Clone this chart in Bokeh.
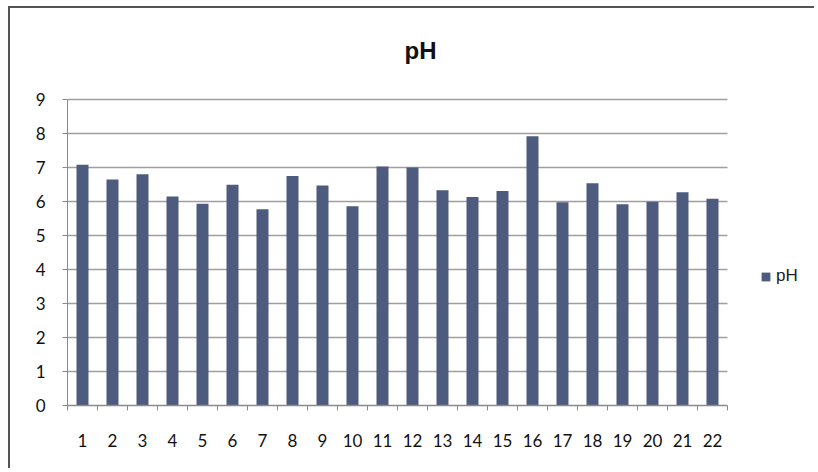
from bokeh.plotting import figure
from bokeh.models import FixedTicker, Legend, LegendItem, ColumnDataSource, Range1d, Label
from bokeh.embed import file_html
from bokeh.resources import INLINE

# pH readings per sample
samples = list(range(1, 23))
ph_values = [7.08, 6.65, 6.80, 6.15, 5.93, 6.49, 5.77, 6.75, 6.47, 5.86, 7.03,
             7.00, 6.33, 6.13, 6.31, 7.92, 5.98, 6.54, 5.92, 5.99, 6.27, 6.08]
y_ticks = list(range(0, 10))
grid_levels = y_ticks[1:]

X_LO, X_HI = 0.5, 22.5
Y_LO, Y_HI = 0, 9

BAR = "#4d5b7e"
GRID = "#a39d9c"
AXIS = "#8f8a8a"
FONT = "Lato"

src = ColumnDataSource(dict(x=samples, top=ph_values))
grid_src = ColumnDataSource(dict(y=grid_levels,
                                 x0=[X_LO] * len(grid_levels),
                                 x1=[X_HI] * len(grid_levels)))

# the plotting frame also holds the title and legend, so the ranges run past the data
p = figure(width=806, height=462, output_backend="svg", toolbar_location=None,
           x_range=Range1d(X_LO, 25.467), y_range=Range1d(Y_LO, 11.676),
           min_border_left=57, min_border_right=0, min_border_top=0, min_border_bottom=65,
           margin=(6, 0, 0, 8))
# chart border: left and top edges only
p.styles = {"border-left": "2px solid #555", "border-top": "2px solid #555",
            "border-right": "none", "border-bottom": "none",
            "outline": "none", "box-shadow": "none"}
p.outline_line_color = None
p.background_fill_color = "white"
p.border_fill_color = "white"
p.xgrid.grid_line_color = None
p.ygrid.grid_line_color = None

# horizontal gridlines over the data area
p.segment(x0="x0", x1="x1", y0="y", y1="y", source=grid_src,
          line_color=GRID, line_width=1.5)

r = p.vbar(x="x", top="top", width=0.4, bottom=0, source=src,
           fill_color=BAR, line_color=None)

# title
p.add_layout(Label(x=353, y=355, x_units="screen", y_units="screen", text="pH",
                   text_align="center", text_baseline="alphabetic",
                   text_font="Liberation Sans", text_font_style="bold",
                   text_font_size="24px", text_color="#111"))

# axes
p.xaxis.bounds = (X_LO, X_HI)
p.xaxis.ticker = FixedTicker(ticks=samples, minor_ticks=[i + 0.5 for i in range(0, 23)])
p.xaxis.major_tick_line_color = None
p.xaxis.minor_tick_out = 5
p.xaxis.minor_tick_in = 0
p.xaxis.minor_tick_line_color = "#888"
p.xaxis.axis_line_color = AXIS
p.xaxis.axis_line_width = 1.5
p.xaxis.major_label_standoff = 22
p.xaxis.major_label_text_font = FONT
p.xaxis.major_label_text_font_size = "17px"
p.xaxis.major_label_text_color = "#111"

p.yaxis.bounds = (Y_LO, Y_HI)
p.yaxis.ticker = FixedTicker(ticks=y_ticks)
p.yaxis.minor_tick_line_color = None
p.yaxis.major_tick_out = 5
p.yaxis.major_tick_in = 0
p.yaxis.major_tick_line_color = "#888"
p.yaxis.axis_line_color = AXIS
p.yaxis.major_label_standoff = 17
p.yaxis.major_label_text_font = FONT
p.yaxis.major_label_text_font_size = "17px"
p.yaxis.major_label_text_color = "#111"

legend = Legend(items=[LegendItem(label="pH", renderers=[r])], location=(693, 119),
                border_line_color=None, background_fill_alpha=0, padding=0, margin=0,
                glyph_width=11, glyph_height=11, label_standoff=5, label_height=20,
                label_text_font="Liberation Sans", label_text_font_size="17px",
                label_text_color="#222")
p.add_layout(legend, "center")

open("out.html", "w").write(file_html(p, INLINE))
